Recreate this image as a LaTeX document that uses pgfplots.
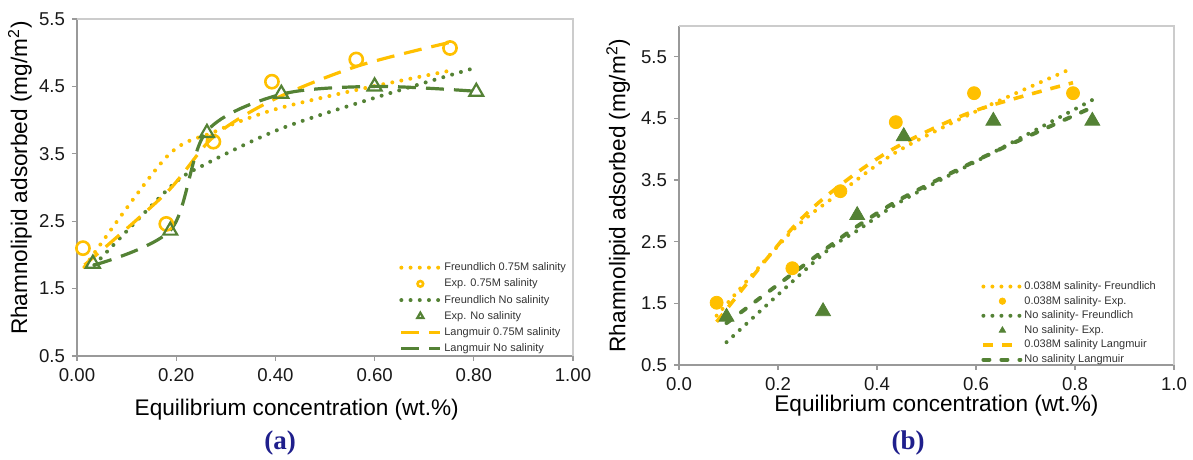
\documentclass[border=0pt]{standalone}
\usepackage{pgfplots}
\pgfplotsset{compat=1.18}
\usepackage{fontspec}
\setmainfont{Liberation Sans}
\newfontfamily\timesfont{Liberation Serif}
\definecolor{orng}{HTML}{FFC000}
\definecolor{grn}{HTML}{548235}
\definecolor{navy}{HTML}{1F1F8C}
\begin{document}
\begin{tikzpicture}
\useasboundingbox (0,0) rectangle (596.5pt,230pt);
\pgfplotsset{
  myaxis/.style={
    scale only axis,
    axis lines=left,
    axis line style={draw=black!40, line width=0.6pt, -},
    tick align=outside,
    major tick length=2.5pt,
    tick style={draw=black!40, line width=0.6pt},
    ticklabel style={font=\fontsize{9.3}{11}\selectfont, text=black!90},
    /pgf/number format/assume math mode=true,
    legend cell align=left,
    clip=false,
    ylabel style={font=\fontsize{11.3}{13}\selectfont, anchor=center},
    xlabel style={font=\fontsize{11.3}{13}\selectfont, anchor=center},
  },
  expmark/.style={legend image code/.code={\draw[##1, mark size=#1] plot coordinates {(9.5pt,0pt)};}},
}
% ---------------- panel (a)
\begin{axis}[myaxis,
  at={(38.5pt,52pt)}, anchor=south west,
  width=248pt, height=168.5pt,
  xmin=0, xmax=1, ymin=0.5, ymax=5.5,
  xtick={0,0.2,0.4,0.6,0.8,1}, ytick={0.5,1.5,2.5,3.5,4.5,5.5},
  xticklabel style={/pgf/number format/.cd, fixed, fixed zerofill, precision=2},
  yticklabel style={/pgf/number format/.cd, fixed, fixed zerofill, precision=1},
  xlabel={Equilibrium concentration (wt.\%)},
  ylabel={Rhamnolipid adsorbed (mg/m\textsuperscript{2})},
  xlabel style={at={(axis description cs:0.443,-0.16)}},
  ylabel style={at={(axis description cs:-0.115,0.528)}},
  legend image code/.code={\draw[#1] (0pt,0pt) -- (19.5pt,0pt);},
  legend style={draw=none, fill=none, at={(rel axis cs:0.637,0.296)}, anchor=north west,
    font=\fontsize{5.5}{6.5}\selectfont, row sep=1.1pt, text=black!80,
    nodes={inner sep=1pt, text height=4pt, text depth=1pt}},
]
\draw[black!20, line width=0.6pt] (rel axis cs:0,1) -- (rel axis cs:1,1) -- (rel axis cs:1,0);
\addplot[orng, smooth, line width=2pt, dash pattern=on 0pt off 4.6pt, line cap=round]
  coordinates {(0.015,1.82) (0.18,3.45) (0.275,3.82) (0.395,4.15) (0.565,4.45) (0.75,4.73)};
\addlegendentry{Freundlich 0.75M salinity}
\addplot[only marks, mark=o, draw=orng, mark size=3.3pt, line width=1.3pt, expmark=1.4pt]
  coordinates {(0.012,2.1) (0.18,2.46) (0.275,3.68) (0.393,4.57) (0.563,4.9) (0.752,5.07)};
\addlegendentry{Exp. 0.75M salinity}
\addplot[grn, smooth, line width=2pt, dash pattern=on 0pt off 4.6pt, line cap=round]
  coordinates {(0.035,1.85) (0.19,3.02) (0.26,3.35) (0.41,3.87) (0.6,4.33) (0.8,4.77)};
\addlegendentry{Freundlich No salinity}
\addplot[only marks, mark=triangle, draw=grn, mark size=4pt, line width=1.1pt, expmark=1.8pt]
  coordinates {(0.032,1.87) (0.188,2.36) (0.262,3.81) (0.412,4.39) (0.6,4.5) (0.805,4.42)};
\addlegendentry{Exp. No salinity}
\addplot[orng, smooth, line width=1.6pt, dash pattern=on 9pt off 5pt]
  coordinates {(0.015,1.85) (0.18,2.92) (0.275,3.75) (0.395,4.3) (0.565,4.8) (0.75,5.15)};
\addlegendentry{Langmuir 0.75M salinity}
\addplot[grn, smooth, line width=1.6pt, dash pattern=on 9pt off 5pt]
  coordinates {(0.035,1.85) (0.19,2.38) (0.26,3.82) (0.41,4.38) (0.6,4.5) (0.8,4.43)};
\addlegendentry{Langmuir No salinity}
\end{axis}
% ---------------- panel (b)
\begin{axis}[myaxis,
  at={(339.5pt,47.5pt)}, anchor=south west,
  width=247.5pt, height=169.5pt,
  xmin=0, xmax=1, ymin=0.5, ymax=6.0,
  xtick={0,0.2,0.4,0.6,0.8,1}, ytick={0.5,1.5,2.5,3.5,4.5,5.5},
  xticklabel style={/pgf/number format/.cd, fixed, fixed zerofill, precision=1},
  yticklabel style={/pgf/number format/.cd, fixed, fixed zerofill, precision=1},
  xlabel={Equilibrium concentration (wt.\%)},
  ylabel={Rhamnolipid adsorbed (mg/m\textsuperscript{2})},
  xlabel style={at={(axis description cs:0.52,-0.121)}},
  ylabel style={at={(axis description cs:-0.123,0.50)}},
  legend image code/.code={\draw[#1] (0pt,0pt) -- (18.5pt,0pt);},
  legend style={draw=none, fill=none, at={(rel axis cs:0.598,0.265)}, anchor=north west,
    font=\fontsize{5.5}{6.5}\selectfont, row sep=0.3pt, text=black!80,
    nodes={inner sep=1pt, text height=4pt, text depth=1pt}},
]
\draw[black!20, line width=0.6pt] (rel axis cs:0,1) -- (rel axis cs:1,1) -- (rel axis cs:1,0);
\addplot[orng, smooth, line width=2pt, dash pattern=on 0pt off 4.5pt, line cap=round]
  coordinates {(0.076,1.3) (0.229,2.68) (0.326,3.3) (0.438,3.95) (0.596,4.6) (0.796,5.32)};
\addlegendentry{0.038M salinity- Freundlich}
\addplot[only marks, mark=*, orng, mark size=3.25pt, expmark=1.6pt]
  coordinates {(0.076,1.51) (0.229,2.07) (0.326,3.32) (0.438,4.44) (0.596,4.91) (0.796,4.91)};
\addlegendentry{0.038M salinity- Exp.}
\addplot[grn, smooth, line width=2pt, dash pattern=on 0pt off 4.5pt, line cap=round]
  coordinates {(0.096,0.87) (0.291,2.3) (0.36,2.68) (0.454,3.18) (0.635,3.95) (0.835,4.8)};
\addlegendentry{No salinity- Freundlich}
\addplot[only marks, mark=triangle*, grn, mark size=4.3pt, expmark=1.8pt]
  coordinates {(0.096,1.28) (0.291,1.37) (0.36,2.93) (0.454,4.21) (0.635,4.46) (0.835,4.46)};
\addlegendentry{No salinity- Exp.}
\addplot[orng, smooth, line width=1.8pt, dash pattern=on 5pt off 4.5pt]
  coordinates {(0.076,1.2) (0.229,2.72) (0.326,3.42) (0.438,4.03) (0.596,4.62) (0.796,5.08)};
\addlegendentry{0.038M salinity Langmuir}
\addplot[grn, smooth, line width=2pt, dash pattern=on 3pt off 6pt, line cap=round]
  coordinates {(0.096,1.18) (0.291,2.35) (0.36,2.75) (0.454,3.22) (0.635,3.95) (0.835,4.68)};
\addlegendentry{No salinity Langmuir}
\end{axis}
\node[font=\timesfont\bfseries\fontsize{13.5}{15}\selectfont, text=navy] at (140pt,8.5pt) {(a)};
\node[font=\timesfont\bfseries\fontsize{13.5}{15}\selectfont, text=navy] at (454pt,8.5pt) {(b)};
\end{tikzpicture}
\end{document}
